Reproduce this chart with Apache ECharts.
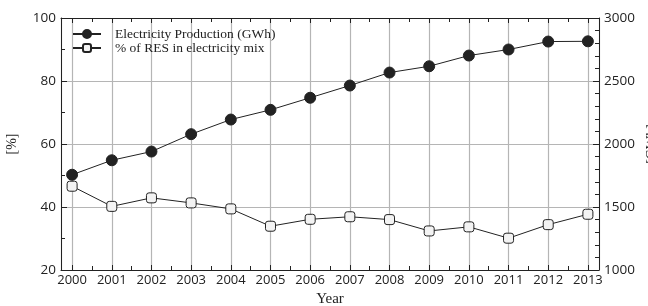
<!DOCTYPE html>
<html>
<head>
<meta charset="utf-8">
<script src="https://cdn.jsdelivr.net/npm/echarts@6/dist/echarts.min.js"></script>
<style>
  html, body { margin: 0; padding: 0; background: #fff; }
  #main { width: 648px; height: 306px; }
</style>
</head>
<body>
<div id="main"></div>
<script>
// years on the x axis
var years = [2000, 2001, 2002, 2003, 2004, 2005, 2006, 2007, 2008, 2009, 2010, 2011, 2012, 2013];
// electricity production, GWh (right axis)
var production = [1756, 1871, 1940, 2078, 2194, 2271, 2367, 2464, 2567, 2617, 2702, 2750, 2813, 2815];
// share of RES in electricity mix, % (left axis)
var resShare = [46.6, 40.2, 42.9, 41.3, 39.4, 33.9, 36.1, 36.9, 36.0, 32.4, 33.7, 30.1, 34.4, 37.7];

var chart = echarts.init(document.getElementById('main'));

var sans = '"Open Sans", sans-serif';
var serif = '"Liberation Serif", serif';
var gridColor = '#b5b5b5';

function pairs(ys) {
  return years.map(function (y, i) { return [y, ys[i]]; });
}

var xCommon = {
  type: 'value',
  min: 1999.72,
  max: 2013.28,
  splitNumber: 14,
  axisLine: { show: true, onZero: false, lineStyle: { color: '#222', width: 1 } },
  axisTick: { show: true, inside: true, length: 5, lineStyle: { color: '#222' } },
  minorTick: { show: true, splitNumber: 2, length: 4, lineStyle: { color: '#222' } }
};

var option = {
  animation: false,
  grid: { left: 61, right: 49, top: 18, bottom: 36, containLabel: false, outerBoundsMode: 'none' },
  legend: {
    orient: 'vertical',
    left: 72,
    top: 27,
    padding: 0,
    itemWidth: 28,
    itemHeight: 10,
    itemGap: 0,
    textStyle: { fontFamily: serif, fontSize: 13.5, lineHeight: 13, color: '#222', padding: [0, 0, 0, 9] },
    data: ['Electricity Production (GWh)', '% of RES in electricity mix']
  },
  xAxis: [
    Object.assign({}, xCommon, {
      position: 'bottom',
      name: 'Year',
      nameLocation: 'middle',
      nameGap: 22,
      nameTextStyle: { fontFamily: serif, fontSize: 15, color: '#222' },
      axisLabel: {
        margin: 4,
        fontFamily: sans,
        fontSize: 13,
        color: '#222',
        formatter: function (v) {
          return Math.abs(v - Math.round(v)) < 1e-6 ? String(Math.round(v)) : '';
        }
      },
      splitLine: { show: true, lineStyle: { color: gridColor, width: 1.2 } }
    }),
    Object.assign({}, xCommon, {
      position: 'top',
      axisLabel: { show: false },
      splitLine: { show: false }
    })
  ],
  yAxis: [
    {
      type: 'value',
      min: 20,
      max: 100,
      interval: 20,
      position: 'left',
      name: '[%]',
      nameLocation: 'middle',
      nameGap: 42,
      nameRotate: 90,
      nameTextStyle: { fontFamily: serif, fontSize: 14, color: '#222' },
      axisLine: { show: true, lineStyle: { color: '#222', width: 1 } },
      axisTick: { show: true, inside: true, length: 6, lineStyle: { color: '#222' } },
      minorTick: { show: true, splitNumber: 2, length: 4, lineStyle: { color: '#222' } },
      axisLabel: { margin: 5, fontFamily: sans, fontSize: 13.5, color: '#222' },
      splitLine: { show: true, lineStyle: { color: gridColor, width: 1.2 } }
    },
    {
      type: 'value',
      min: 1000,
      max: 3000,
      interval: 500,
      position: 'right',
      name: '[GWh]',
      nameLocation: 'middle',
      nameGap: 46,
      nameRotate: 90,
      nameTextStyle: { fontFamily: serif, fontSize: 14, color: '#222' },
      axisLine: { show: true, lineStyle: { color: '#222', width: 1 } },
      axisTick: { show: true, inside: true, length: 6, lineStyle: { color: '#222' } },
      minorTick: { show: true, splitNumber: 5, length: 4, lineStyle: { color: '#222' } },
      axisLabel: {
        margin: 5, fontFamily: sans, fontSize: 13.5, color: '#222',
        formatter: function (v) { return String(v); }
      },
      splitLine: { show: false }
    }
  ],
  series: [
    {
      name: 'Electricity Production (GWh)',
      type: 'line',
      xAxisIndex: 0,
      yAxisIndex: 1,
      data: pairs(production),
      symbol: 'circle',
      symbolSize: 11,
      lineStyle: { color: '#222', width: 1 },
      itemStyle: { color: '#222', borderColor: '#222', borderWidth: 1 },
      z: 3
    },
    {
      name: '% of RES in electricity mix',
      type: 'line',
      xAxisIndex: 0,
      yAxisIndex: 0,
      data: pairs(resShare),
      symbol: 'roundRect',
      symbolSize: 10,
      lineStyle: { color: '#222', width: 1 },
      itemStyle: { color: '#f3f3f3', borderColor: '#222', borderWidth: 1 },
      z: 3
    }
  ]
};

chart.setOption(option);
</script>
</body>
</html>
